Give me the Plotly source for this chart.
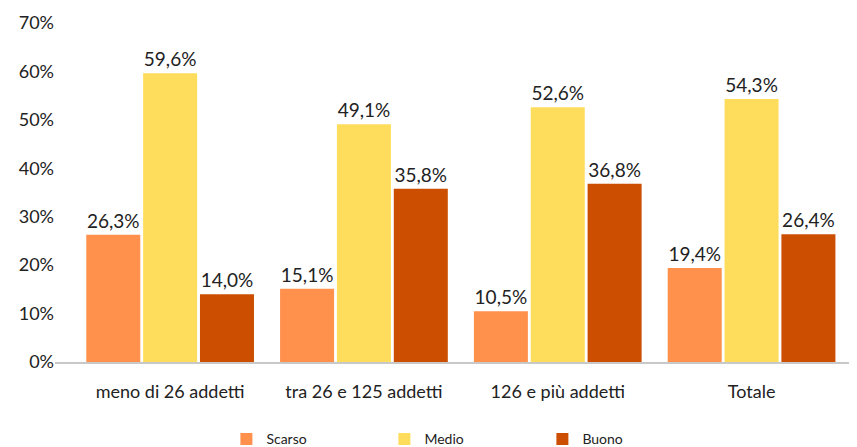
import plotly.graph_objects as go

categories = ["meno di 26 addetti", "tra 26 e 125 addetti", "126 e più addetti", "Totale"]
scarso = [26.3, 15.1, 10.5, 19.4]
medio = [59.6, 49.1, 52.6, 54.3]
buono = [14.0, 35.8, 36.8, 26.4]
y_ticks = [0, 10, 20, 30, 40, 50, 60, 70]

series = [("Scarso", scarso, "#FF914D"), ("Medio", medio, "#FFDD5C"), ("Buono", buono, "#CC4E00")]

FONT = "Lato, 'Noto Sans', sans-serif"
INK = "#222222"


def _lbl(v):
    return f"{v:.1f}".replace(".", ",") + "%"


fig = go.Figure()
for name, vals, color in series:
    fig.add_trace(go.Bar(
        x=categories, y=vals, name=name, marker=dict(color=color, line=dict(width=0)),
        text=[_lbl(v) for v in vals], textposition="outside", cliponaxis=False,
        textfont=dict(family=FONT, size=19, color=INK),
    ))

# page body adds an 8px offset, so margins are shifted up/left by that much
fig.update_layout(
    width=857, height=447,
    margin=dict(l=47, r=8, t=15, b=92.5, autoexpand=False),
    paper_bgcolor="white", plot_bgcolor="white",
    barmode="group", bargap=0.12, bargroupgap=0.05,
    font=dict(family=FONT, color=INK),
    showlegend=True,
    legend=dict(orientation="h", x=0.2137, xanchor="left", y=-0.228, yanchor="middle",
                entrywidth=113, entrywidthmode="pixels",
                font=dict(family=FONT, size=14, color=INK)),
    xaxis=dict(range=[-0.594, 3.544], showline=True, linecolor="#C8C8C8", linewidth=2,
               showgrid=False, ticks="", ticklabelstandoff=12, automargin=False,
               tickfont=dict(family=FONT, size=18, color=INK)),
    yaxis=dict(range=[0, 70], tickvals=y_ticks, ticktext=[f"{t}%" for t in y_ticks],
               showgrid=False, zeroline=False, showline=False, ticks="", automargin=False,
               tickfont=dict(family=FONT, size=18, color=INK)),
)

fig.write_html("out.html")
